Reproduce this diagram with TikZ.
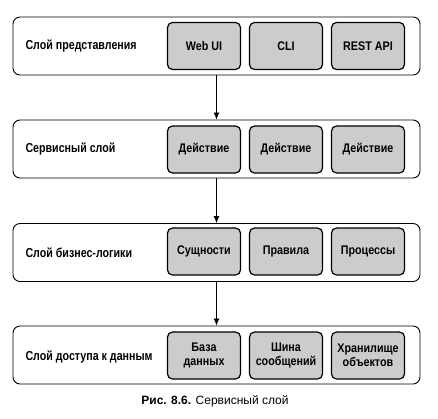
\documentclass[tikz,border=0pt]{standalone}
\usepackage{fontspec}
\setmainfont{Liberation Sans}
\newfontfamily\condfont[FakeStretch=0.82]{Liberation Sans}
\newfontfamily\partfont[FakeStretch=0.86]{Liberation Sans}
\usetikzlibrary{positioning,arrows.meta}

\begin{document}
\begin{tikzpicture}[x=1pt,y=-1pt,
        layer/.style={draw,rounded corners=7pt,line width=0.9pt,minimum width=407pt,minimum height=58pt,fill=white},
        layername/.style={anchor=west,font=\condfont\bfseries\fontsize{13}{14}\selectfont},
        part/.style={draw,rounded corners=5pt,line width=1.2pt,minimum width=73pt,minimum height=47pt,fill=gray!40,align=center,inner sep=1pt,font=\partfont\bfseries\fontsize{12.5}{14}\selectfont}]
            \useasboundingbox (0,0) rectangle (438,418);

            % layers
            \node [layer] (pres) at (216.5,46) {};
            \node [layer] (serv) at (216.5,149) {};
            \node [layer] (biz) at (216.5,252.5) {};
            \node [layer] (data) at (216.5,355) {};

            \node [layername] (presname) at (22,46) {Слой представления};
            \node [layername] (servname) at (22,149) {Сервисный слой};
            \node [layername] (bizname) at (22,253) {Слой бизнес-логики};
            \node [layername] (dataname) at (22,357) {Слой доступа к данным};

            % parts of each layer
            \node [part] (webui) at (204,46) {Web UI};
            \node [part] (cli) at (286,46) {CLI};
            \node [part] (rest) at (368,46) {REST API};

            \node [part] (act1) at (204,149.5) {Действие};
            \node [part] (act2) at (286,149.5) {Действие};
            \node [part] (act3) at (368,149.5) {Действие};

            \node [part] (ent) at (204,251.5) {Сущности};
            \node [part] (rules) at (286,251.5) {Правила};
            \node [part] (proc) at (368,251.5) {Процессы};

            \node [part] (db) at (204,355.5) {База\\данных};
            \node [part] (bus) at (286,355.5) {Шина\\сообщений};
            \node [part] (store) at (368,355.5) {Хранилище\\объектов};

            \draw [-{Latex[length=7pt,width=6pt]}, line width=0.8pt] (pres.south) -- (serv.north);
            \draw [-{Latex[length=7pt,width=6pt]}, line width=0.8pt] (serv.south) -- (biz.north);
            \draw [-{Latex[length=7pt,width=6pt]}, line width=0.8pt] (biz.south) -- (data.north);

            \node (caption) at (215,401) {\fontsize{12}{14}\selectfont\textbf{Рис. 8.6.} Сервисный слой};
        \end{tikzpicture}
\end{document}
